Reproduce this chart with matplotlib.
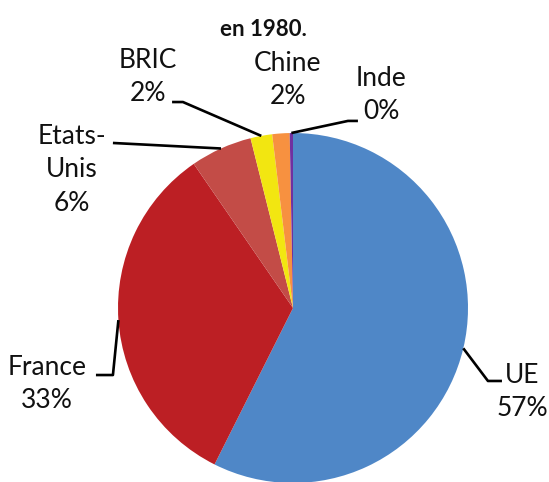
import numpy as np
import matplotlib
matplotlib.use("Agg")
import matplotlib.pyplot as plt

# -----------------------------
# Data
# -----------------------------
names = ["UE", "France", "Etats-\nUnis", "BRIC", "Chine", "Inde"]
shares = [57.4, 33.0, 5.7, 2.0, 1.6, 0.3]
colors = ["#4F87C7", "#BC1F24", "#C34C47", "#F2E611", "#F79140", "#7030A0"]
title = "en 1980."

# label block centres and leader elbows (in pie-radius units)
label_pos = [(1.309, -0.48), (-1.406, -0.434), (-1.263, 0.789),
             (-0.829, 1.32), (-0.029, 1.303), (0.503, 1.217)]
leaders = [
    [(1.114, -0.417), (1.194, -0.417)],
    [(-1.029, -0.383), (-1.126, -0.383)],
    [(-1.029, 0.943)],
    [(-0.629, 1.177), (-0.691, 1.177)],
    None,
    [(0.314, 1.069), (0.371, 1.069)],
]

plt.rcParams["font.family"] = ["Lato", "DejaVu Sans"]

fig = plt.figure(figsize=(5.49, 4.82), dpi=100)
ax = fig.add_axes([0, 0, 1, 1])

wedges, _ = ax.pie(shares, colors=colors, startangle=90, counterclock=False,
                   radius=1.0, wedgeprops=dict(linewidth=0))

for w, name, val, pos, lead in zip(wedges, names, shares, label_pos, leaders):
    ang = np.deg2rad((w.theta1 + w.theta2) / 2)
    edge = (np.cos(ang), np.sin(ang))
    if lead is not None:
        pts = [edge] + lead
        ax.plot([p[0] for p in pts], [p[1] for p in pts], color="black",
                lw=1.9, solid_capstyle="butt", zorder=3)
    ax.text(pos[0], pos[1], f"{name}\n{round(val):.0f}%", ha="center",
            va="center", fontsize=19, linespacing=1.42, color="#111111")

ax.text(-0.171, 1.589, title, ha="center", va="center", fontsize=16,
        fontweight="bold", color="#111111")

ax.set_xlim(-293 / 175, (549 - 293) / 175)
ax.set_ylim((308 - 482) / 175, 308 / 175)
ax.set_aspect("auto")
ax.axis("off")

fig.savefig("out.png", dpi=100)
plt.close(fig)
